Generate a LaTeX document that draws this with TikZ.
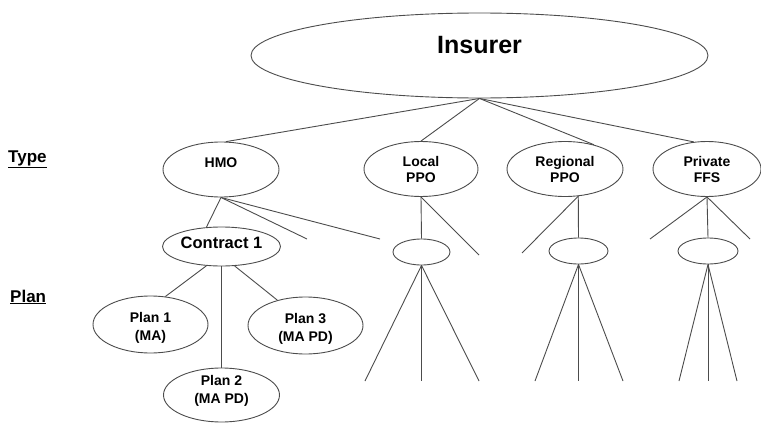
\documentclass[tikz,border=0pt]{standalone}
\usepackage{fontspec}
\setmainfont{Liberation Sans}
\usepackage{tikz}
\usetikzlibrary{shapes.geometric}

\tikzset{
  oval/.style={ellipse, draw=black!70, line width=0.9pt, inner sep=0pt, align=center},
  typeoval/.style={oval, minimum height=55pt, font=\bfseries\fontsize{14}{16}\selectfont},
  planoval/.style={oval, minimum width=115pt, minimum height=57pt, text height=31pt, text depth=0pt,
    font=\bfseries\fontsize{14}{18}\selectfont},
  knot/.style={oval, minimum height=26pt},
  link/.style={draw=black!70, line width=0.9pt},
  lvl/.style={anchor=base west, inner sep=0pt, font=\bfseries\fontsize{17}{20}\selectfont}
}

\begin{document}
\begin{tikzpicture}[x=1pt, y=-1pt]
\useasboundingbox (0,0) rectangle (761,423);

% levels
\node[lvl] (type) at (8,162) {\underline{Type}};
\node[lvl] (plan) at (10,302) {\underline{Plan}};

% insurer and types
\node[oval, minimum width=457pt, minimum height=85pt, text height=18pt, text depth=23pt,
  font=\bfseries\fontsize{25}{30}\selectfont] (ins) at (479.5,55.5) {Insurer};
\node[typeoval, minimum width=116pt, text height=10pt, text depth=14pt] (hmo) at (221,169.5) {HMO};
\node[typeoval, minimum width=114pt] (loc) at (421,169) {Local\\PPO};
\node[typeoval, minimum width=116pt] (reg) at (565,169) {Regional\\PPO};
\node[typeoval, minimum width=108pt] (pff) at (707,169) {Private\\FFS};

\draw[link] (ins.south) -- (hmo.80);
\draw[link] (ins.south) -- (loc.north);
\draw[link] (ins.south) -- (reg.40);
\draw[link] (ins.south) -- (pff.116);

% contracts
\node[oval, minimum width=118pt, minimum height=39pt, text height=12pt, text depth=9pt,
  font=\bfseries\fontsize{16.5}{20}\selectfont] (c1) at (221.5,246.5) {Contract 1};
\node[knot, minimum width=57pt] (loc2) at (421.5,252) {};
\node[knot, minimum width=59pt] (reg2) at (578.5,251) {};
\node[knot, minimum width=60pt] (pff2) at (708,251) {};

\coordinate (hmoA) at (307,239);
\coordinate (hmoB) at (380,239);
\coordinate (locR) at (479,255);
\coordinate (regL) at (522,253);
\coordinate (pffL) at (650,239);
\coordinate (pffR) at (750,239);

\draw[link] (hmo.south) -- (c1.128);
\draw[link] (hmo.south) -- (hmoA);
\draw[link] (hmo.south) -- (hmoB);
\draw[link] (loc.south) -- (loc2.north);
\draw[link] (loc.south) -- (locR);
\draw[link] (reg.296) -- (reg2.north);
\draw[link] (reg.296) -- (regL);
\draw[link] (pff.south) -- (pff2.north);
\draw[link] (pff.south) -- (pffL);
\draw[link] (pff.south) -- (pffR);

% plans
\node[planoval] (p1) at (150.5,324.5) {Plan 1\\(MA)};
\node[planoval, minimum width=116pt, minimum height=54pt, text height=18pt, text depth=2pt] (p2) at (221.5,395) {Plan 2\\(MA PD)};
\node[planoval] (p3) at (305.5,325.5) {Plan 3\\(MA PD)};

\draw[link] (c1.232) -- (p1.62);
\draw[link] (c1.south) -- (p2.north);
\draw[link] (c1.304) -- (p3.138);

\coordinate (locA) at (365,381);
\coordinate (locB) at (421.5,381);
\coordinate (locC) at (479,381);
\coordinate (regA) at (535,381);
\coordinate (regB) at (578.5,381);
\coordinate (regC) at (623,381);
\coordinate (pffA) at (679,381);
\coordinate (pffB) at (708,381);
\coordinate (pffC) at (737,381);

\draw[link] (loc2.south) -- (locA);
\draw[link] (loc2.south) -- (locB);
\draw[link] (loc2.south) -- (locC);
\draw[link] (reg2.south) -- (regA);
\draw[link] (reg2.south) -- (regB);
\draw[link] (reg2.south) -- (regC);
\draw[link] (pff2.south) -- (pffA);
\draw[link] (pff2.south) -- (pffB);
\draw[link] (pff2.south) -- (pffC);
\end{tikzpicture}
\end{document}
